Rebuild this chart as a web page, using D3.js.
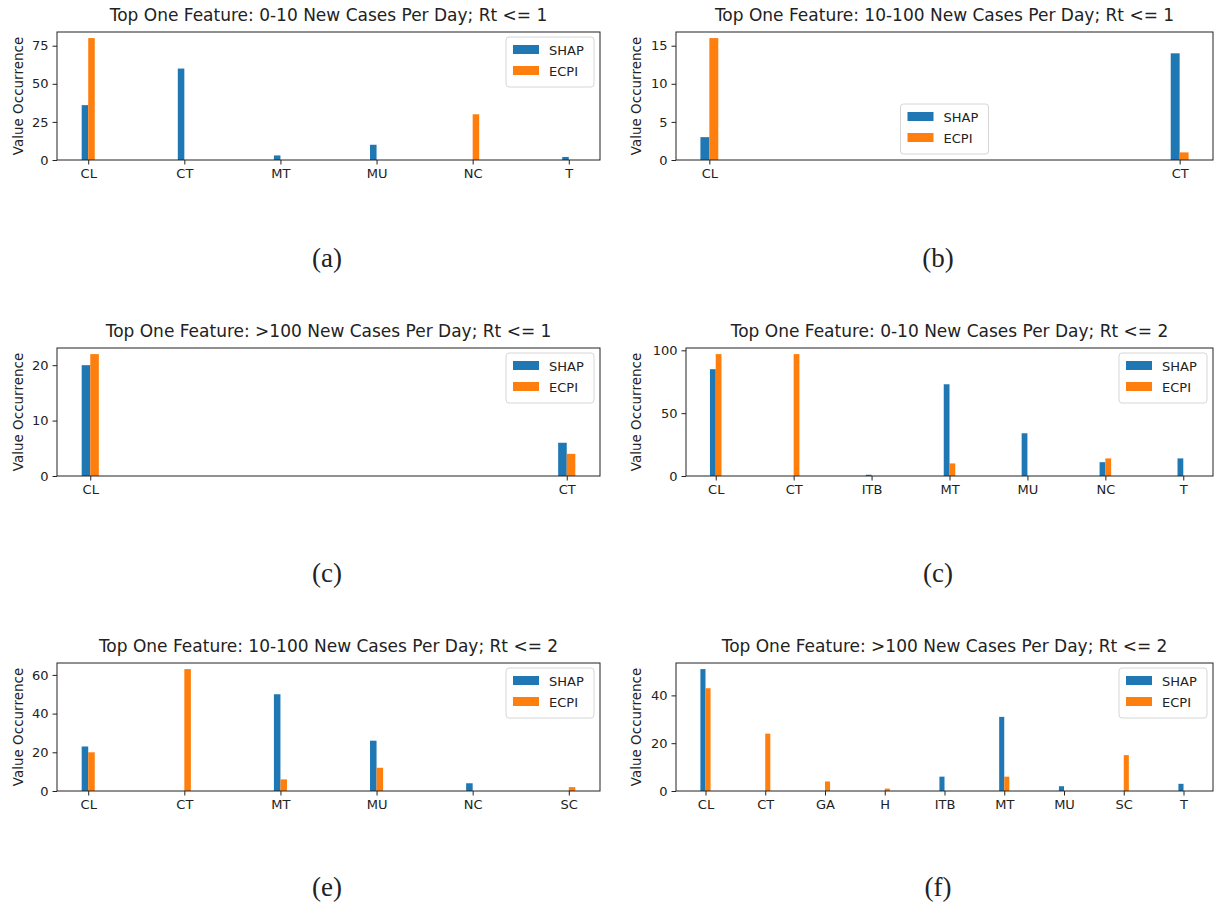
<!DOCTYPE html>
<html>
<head>
<meta charset="utf-8">
<script src="https://cdn.jsdelivr.net/npm/d3@7/dist/d3.min.js"></script>
<style>
  body { margin: 0; background: #fff; }
  svg text { font-family: "DejaVu Sans", sans-serif; fill: #222; }
</style>
</head>
<body>
<svg id="chart" width="1219" height="909"></svg>
<script>
const SERIES = ["SHAP", "ECPI"]
const COLORS = ["#1f77b4", "#ff7f0e"]

const titles = [
  "Top One Feature: 0-10 New Cases Per Day; Rt <= 1",
  "Top One Feature: 10-100 New Cases Per Day; Rt <= 1",
  "Top One Feature: >100 New Cases Per Day; Rt <= 1",
  "Top One Feature: 0-10 New Cases Per Day; Rt <= 2",
  "Top One Feature: 10-100 New Cases Per Day; Rt <= 2",
  "Top One Feature: >100 New Cases Per Day; Rt <= 2"
]
const captions = ["(a)", "(b)", "(c)", "(c)", "(e)", "(f)"]

// panel (a)
const catsA = ["CL", "CT", "MT", "MU", "NC", "T"]
const shapA = [36, 60, 3, 10, 0, 2]
const ecpiA = [80, 0, 0, 0, 30, 0]
// panel (b)
const catsB = ["CL", "CT"]
const shapB = [3, 14]
const ecpiB = [16, 1]
// panel (c)
const catsC = ["CL", "CT"]
const shapC = [20, 6]
const ecpiC = [22, 4]
// panel (d)
const catsD = ["CL", "CT", "ITB", "MT", "MU", "NC", "T"]
const shapD = [85, 0, 1, 73, 34, 11, 14]
const ecpiD = [97, 97, 0, 10, 0, 14, 0]
// panel (e)
const catsE = ["CL", "CT", "MT", "MU", "NC", "SC"]
const shapE = [23, 0, 50, 26, 4, 0]
const ecpiE = [20, 63, 6, 12, 0, 2]
// panel (f)
const catsF = ["CL", "CT", "GA", "H", "ITB", "MT", "MU", "SC", "T"]
const shapF = [51, 0, 0, 0, 6, 31, 2, 0, 3]
const ecpiF = [43, 24, 4, 1, 0, 6, 0, 15, 0]

const yTicksA = [0, 25, 50, 75]
const yTicksB = [0, 5, 10, 15]
const yTicksC = [0, 10, 20]
const yTicksD = [0, 50, 100]
const yTicksE = [0, 20, 40, 60]
const yTicksF = [0, 20, 40]

const categories = [catsA, catsB, catsC, catsD, catsE, catsF]
const shapValues = [shapA, shapB, shapC, shapD, shapE, shapF]
const ecpiValues = [ecpiA, ecpiB, ecpiC, ecpiD, ecpiE, ecpiF]
const yTicks = [yTicksA, yTicksB, yTicksC, yTicksD, yTicksE, yTicksF]

// where each sub-figure sits on the page
const layout = [
  { left: 57,  right: 600,  top: 32,  bottom: 160, barW: 0.068, legend: 'upper right',  labelX: 18,  capX: 327, capY: 267 },
  { left: 676, right: 1213, top: 32,  bottom: 160, barW: 0.019, legend: 'lower center', labelX: 636, capX: 938, capY: 267 },
  { left: 57,  right: 600,  top: 348, bottom: 476, barW: 0.018, legend: 'upper right',  labelX: 18,  capX: 327, capY: 582 },
  { left: 686, right: 1213, top: 348, bottom: 476, barW: 0.074, legend: 'upper right',  labelX: 636, capX: 938, capY: 582 },
  { left: 57,  right: 600,  top: 663, bottom: 791, barW: 0.068, legend: 'upper right',  labelX: 18,  capX: 327, capY: 896 },
  { left: 676, right: 1213, top: 663, bottom: 791, barW: 0.085, legend: 'upper right',  labelX: 636, capX: 938, capY: 896 }
]

const svg = d3.select('#chart')

layout.forEach(function (L, i) {
  const cats = categories[i]
  const n = cats.length
  const w = L.barW
  // matplotlib style x limits: bar extent plus 5% margin
  const lo = -w, hi = n - 1 + w
  const m = 0.05 * (hi - lo)
  const x = d3.scaleLinear().domain([lo - m, hi + m]).range([L.left, L.right])
  const maxV = d3.max(shapValues[i].concat(ecpiValues[i]))
  const y = d3.scaleLinear().domain([0, maxV * 1.05]).range([L.bottom, L.top])

  const g = svg.append('g').attr('class', 'panel')

  // bars
  const rows = cats.map(function (c, k) { return { k: k, shap: shapValues[i][k], ecpi: ecpiValues[i][k] } })
  g.selectAll('.shap').data(rows).enter().append('rect')
    .attr('class', 'shap')
    .attr('x', function (d) { return x(d.k - w) })
    .attr('width', function () { return x(w) - x(0) })
    .attr('y', function (d) { return y(d.shap) })
    .attr('height', function (d) { return y(0) - y(d.shap) })
    .attr('fill', COLORS[0])
  g.selectAll('.ecpi').data(rows).enter().append('rect')
    .attr('class', 'ecpi')
    .attr('x', function (d) { return x(d.k) })
    .attr('width', function () { return x(w) - x(0) })
    .attr('y', function (d) { return y(d.ecpi) })
    .attr('height', function (d) { return y(0) - y(d.ecpi) })
    .attr('fill', COLORS[1])

  // axes
  const xAxis = d3.axisBottom(x).tickValues(d3.range(n)).tickFormat(function (k) { return cats[k] }).tickSize(4.5).tickPadding(4)
  const yAxis = d3.axisLeft(y).tickValues(yTicks[i]).tickSize(4.5).tickPadding(4)
  const gx = g.append('g').attr('transform', 'translate(0,' + L.bottom + ')').call(xAxis)
  const gy = g.append('g').attr('transform', 'translate(' + L.left + ',0)').call(yAxis)
  gx.select('.domain').remove()
  gy.select('.domain').remove()
  g.selectAll('.tick text').style('font-size', '13px').attr('fill', '#222')
  g.selectAll('.tick line').attr('stroke', '#222')

  // frame
  g.append('rect')
    .attr('x', L.left).attr('y', L.top)
    .attr('width', L.right - L.left).attr('height', L.bottom - L.top)
    .attr('fill', 'none').attr('stroke', '#222').attr('stroke-width', 1)

  // title, y label, caption
  g.append('text')
    .attr('x', (L.left + L.right) / 2).attr('y', L.top - 11)
    .attr('text-anchor', 'middle').style('font-size', '17px')
    .text(titles[i])
  g.append('text')
    .attr('transform', 'translate(' + L.labelX + ',' + (L.top + L.bottom) / 2 + ') rotate(-90)')
    .attr('text-anchor', 'middle').attr('dominant-baseline', 'central')
    .style('font-size', '13.5px')
    .text('Value Occurrence')
  g.append('text')
    .attr('x', L.capX).attr('y', L.capY)
    .attr('text-anchor', 'middle')
    .style('font-family', '"Liberation Serif", "Times New Roman", serif')
    .style('font-size', '27px').attr('fill', '#000')
    .text(captions[i])

  // legend
  const lw = 88, lh = 50
  let lx, ly
  if (L.legend === 'lower center') {
    lx = (L.left + L.right) / 2 - lw / 2
    ly = L.bottom - 6 - lh
  } else {
    lx = L.right - 6 - lw
    ly = L.top + 5
  }
  const lg = g.append('g').attr('transform', 'translate(' + lx + ',' + ly + ')')
  lg.append('rect').attr('width', lw).attr('height', lh).attr('rx', 3)
    .attr('fill', '#fff').attr('fill-opacity', 0.8).attr('stroke', '#d6d6d6')
  SERIES.forEach(function (s, j) {
    lg.append('rect').attr('x', 7).attr('y', 8 + j * 21).attr('width', 26).attr('height', 9).attr('fill', COLORS[j])
    lg.append('text').attr('x', 43).attr('y', 13 + j * 21).attr('dominant-baseline', 'central')
      .style('font-size', '13px').text(s)
  })
})
</script>
</body>
</html>
